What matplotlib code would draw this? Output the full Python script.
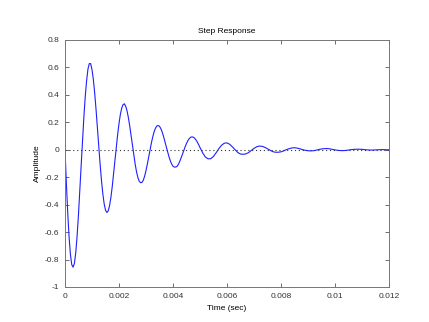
import numpy as np
import matplotlib
matplotlib.use('Agg')
import matplotlib.pyplot as plt

# time in seconds, amplitude
# first 5 ms read every 0.05 ms, the rest every 0.1 ms
time_fine = np.arange(100) * 0.00005
amp_fine = [
    0.000, -0.241, -0.455, -0.631, -0.760, -0.837, -0.856, -0.827, -0.746, -0.624,
    -0.470, -0.295, -0.110, 0.072, 0.241, 0.388, 0.502, 0.588, 0.628, 0.628,
    0.584, 0.512, 0.413, 0.293, 0.161, 0.026, -0.104, -0.221, -0.319, -0.393,
    -0.440, -0.457, -0.446, -0.408, -0.347, -0.268, -0.176, -0.078, 0.020, 0.111,
    0.191, 0.257, 0.303, 0.329, 0.335, 0.316, 0.282, 0.231, 0.170, 0.100,
    0.028, -0.042, -0.106, -0.161, -0.203, -0.230, -0.240, -0.238, -0.222, -0.192,
    -0.151, -0.104, -0.052, 0.000, 0.050, 0.094, 0.131, 0.157, 0.173, 0.177,
    0.171, 0.154, 0.129, 0.097, 0.061, 0.023, -0.015, -0.050, -0.080, -0.104,
    -0.120, -0.126, -0.126, -0.121, -0.106, -0.085, -0.060, -0.033, -0.005, 0.022,
    0.046, 0.066, 0.081, 0.091, 0.094, 0.092, 0.085, 0.072, 0.056, 0.037,
]
time_coarse = np.arange(50, 121) * 0.0001
amp_coarse = [
    0.016, -0.023, -0.053, -0.066, -0.065, -0.048, -0.021, 0.009, 0.033, 0.048,
    0.050, 0.040, 0.021, 0.000, -0.020, -0.031, -0.033, -0.030, -0.020, -0.005,
    0.010, 0.022, 0.027, 0.025, 0.018, 0.007, -0.004, -0.014, -0.018, -0.018,
    -0.015, -0.008, 0.001, 0.008, 0.013, 0.015, 0.012, 0.007, 0.001, -0.004,
    -0.007, -0.008, -0.007, -0.003, 0.002, 0.006, 0.008, 0.009, 0.007, 0.003,
    -0.001, -0.004, -0.006, -0.006, -0.005, -0.002, 0.001, 0.003, 0.004, 0.004,
    0.003, 0.001, -0.001, -0.002, -0.002, -0.001, 0.000, 0.001, 0.001, 0.000,
    0.000,
]

x_ticks = [0, 0.002, 0.004, 0.006, 0.008, 0.01, 0.012]
y_ticks = [-1, -0.8, -0.6, -0.4, -0.2, 0, 0.2, 0.4, 0.6, 0.8]

time_sec = np.concatenate([time_fine, time_coarse])
amplitude = np.concatenate([amp_fine, amp_coarse])

plt.rcParams['font.family'] = ['Liberation Sans', 'DejaVu Sans']
plt.rcParams['font.size'] = 6

fig = plt.figure(figsize=(4.29, 3.22), dpi=100)
ax = fig.add_axes([0.1515, 0.1087, 0.7553, 0.7671])

ax.axhline(0, color='#333333', linestyle=':', linewidth=0.8, dashes=(1, 2.5))
ax.plot(time_sec, amplitude, color='#1f1fff', linewidth=0.8)

ax.set_xlim(0, 0.012)
ax.set_ylim(-1, 0.8)
ax.set_xticks(x_ticks)
ax.set_yticks(y_ticks)
ax.set_xticklabels(['%g' % v for v in x_ticks])
ax.set_yticklabels(['%g' % v for v in y_ticks])

ax.tick_params(direction='in', top=True, right=True, length=3,
               width=0.6, colors='#555555', labelcolor='#333333', pad=4)
for s in ax.spines.values():
    s.set_color('#777777')
    s.set_linewidth(0.7)

ax.set_title('Step Response', fontsize=6, pad=5)
ax.set_xlabel('Time (sec)', fontsize=6, labelpad=4)
ax.set_ylabel('Amplitude', fontsize=6, labelpad=3)

fig.savefig('out.png', dpi=100)
